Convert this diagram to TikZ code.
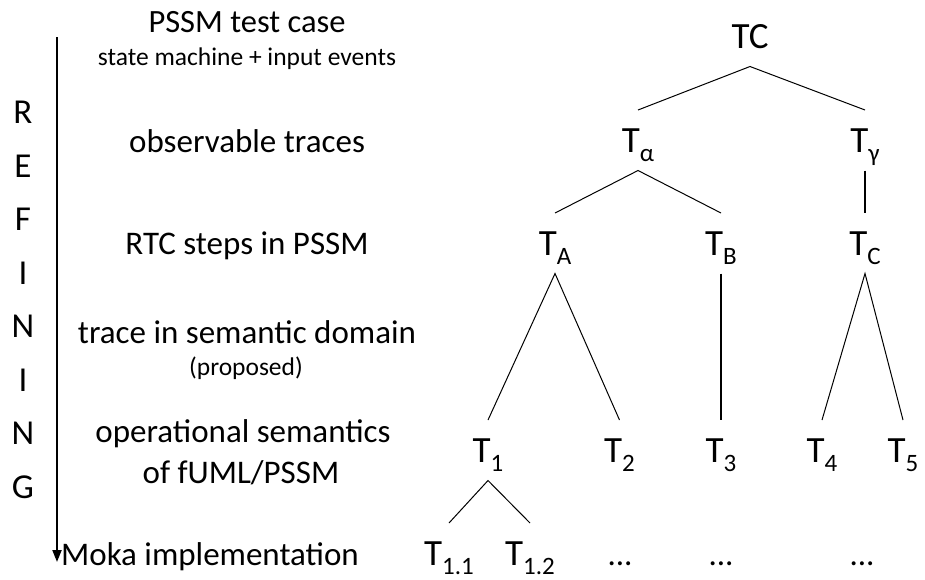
\documentclass[tikz,border=0pt]{standalone}
\usepackage{fontspec}
\setmainfont{Carlito}
\usetikzlibrary{arrows.meta}
\newcommand\sbs[1]{\raisebox{-9pt}{\fontsize{25}{25}\selectfont #1}}
\begin{document}
\begin{tikzpicture}[x=1pt,y=-1pt,
  lvl/.style={font=\fontsize{33}{33}\selectfont, anchor=base, inner sep=0pt},
  lvlsmall/.style={font=\fontsize{25.5}{25.5}\selectfont, anchor=base, inner sep=0pt},
  lvltitle/.style={font=\fontsize{32.5}{32.5}\selectfont, anchor=base, inner sep=0pt},
  letter/.style={font=\fontsize{35}{35}\selectfont, anchor=base, inner sep=0pt},
  tn/.style={font=\fontsize{37}{37}\selectfont, anchor=base, inner sep=0pt,
    text height=23.5pt, text depth=0pt, outer xsep=0pt, outer ysep=18.5pt},
  dots/.style={font=\fontsize{33}{33}\selectfont, anchor=base, inner sep=0pt},
  edge/.style={line width=1pt},
  vedge/.style={line width=1.8pt}]
\useasboundingbox (0,0) rectangle (925,579);

% refinement arrow and its letters
\coordinate (arrtop) at (57,37);
\coordinate (arrbot) at (57,562);
\draw[line width=2pt, -{Triangle[length=12pt,width=9pt]}] (arrtop) -- (arrbot);
\foreach \ch [count=\i from 0] in {R,E,F,I,N,I,N,G}
  \node[letter] (ref\i) at (23,{123.5+53.5*\i}) {\ch};

% level descriptions
\node[lvltitle] (l0) at (247,32) {PSSM test case};
\node[lvlsmall] (l0b) at (247,65) {state machine + input events};
\node[lvl] (l1) at (247,152) {observable traces};
\node[lvl] (l2) at (247,254) {RTC steps in PSSM};
\node[lvl] (l3) at (247,343) {trace in semantic domain};
\node[lvlsmall] (l3b) at (246,375) {(proposed)};
\node[lvl] (l4) at (243,442) {operational semantics};
\node[lvl] (l4b) at (241,483) {of fUML/PSSM};
\node[lvl] (l5) at (210,565) {Moka implementation};

% tree of traces
\node[tn] (TC) at (750,48) {TC};
\node[tn] (Ta) at (638,152) {T\sbs{α}};
\node[tn] (Tg) at (865,152) {T\sbs{γ}};
\node[tn] (TA) at (555,255) {T\sbs{A}};
\node[tn] (TB) at (721,255) {T\sbs{B}};
\node[tn] (TCc) at (865,255) {T\sbs{C}};
\node[tn] (T1) at (488,462) {T\sbs{1}};
\node[tn] (T2) at (619.5,462) {T\sbs{2}};
\node[tn] (T3) at (721,462) {T\sbs{3}};
\node[tn] (T4) at (822,462) {T\sbs{4}};
\node[tn] (T5) at (903,462) {T\sbs{5}};
\node[tn] (T11) at (449,565) {T\sbs{1.1}};
\node[tn] (T12) at (530,565) {T\sbs{1.2}};
\node[dots] (d1) at (620,565) {...};
\node[dots] (d2) at (721,565) {...};
\node[dots] (d3) at (862,565) {...};

\draw[edge] (Ta.north) -- (TC.south) -- (Tg.north);
\draw[edge] (TA.north) -- (Ta.south) -- (TB.north);
\draw[vedge] (Tg.south) -- (TCc.north);
\draw[edge] (T1.north) -- (TA.south) -- (T2.north);
\draw[vedge] (TB.south) -- (T3.north);
\draw[edge] (T4.north) -- (TCc.south) -- (T5.north);
\draw[edge] (T11.north) -- (T1.south) -- (T12.north);
\end{tikzpicture}
\end{document}
